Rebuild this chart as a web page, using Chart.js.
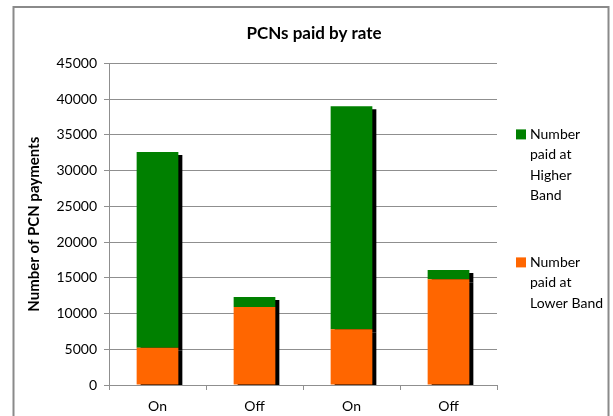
<!DOCTYPE html>
<html><head><meta charset="utf-8">
<script src="https://cdn.jsdelivr.net/npm/chart.js@4"></script>
<style>html,body{margin:0;padding:0;background:#fff;overflow:hidden;} #wrap{width:613px;height:416px;position:relative;}</style>
</head><body><div id="wrap"><canvas id="c" width="613" height="416"></canvas></div>
<script>
// ---- data ----
const categories = ['On', 'Off', 'On', 'Off'];
const lowerBand = [5200, 10900, 7800, 14800];
const higherBand = [27400, 1400, 31200, 1300];
const seriesNames = ['Number paid at Lower Band', 'Number paid at Higher Band'];
const legendLines = [['Number', 'paid at', 'Higher', 'Band'], ['Number', 'paid at', 'Lower Band']];
const yMin = 0, yMax = 45000, yStep = 5000;
const chartTitle = 'PCNs paid by rate';
const yTitle = 'Number of PCN payments';

const FONT = 'Lato, "Open Sans", sans-serif';
const GREEN = '#008000', ORANGE = '#FF6600', GRID = '#8f8f8f';

const framePlugin = {
  id: 'frame',
  beforeDraw(chart) {
    const ctx = chart.ctx;
    ctx.save();
    ctx.strokeStyle = '#8a8a8a';
    ctx.lineWidth = 2;
    ctx.strokeRect(13.5, 7, 595, 500);
    ctx.restore();
  }
};

const shadowPlugin = {
  id: 'barShadow',
  beforeDatasetsDraw(chart) {
    const ctx = chart.ctx;
    ctx.save();
    ctx.shadowColor = '#000';
    ctx.shadowBlur = 0;
    ctx.shadowOffsetX = 4;
    ctx.shadowOffsetY = 3;
  },
  afterDatasetsDraw(chart) {
    chart.ctx.restore();
  }
};

const legendPlugin = {
  id: 'wrapLegend',
  afterDraw(chart) {
    const ctx = chart.ctx;
    const ca = chart.chartArea;
    const items = [
      { color: GREEN, lines: legendLines[0], y: ca.top + 71 },
      { color: ORANGE, lines: legendLines[1], y: ca.top + 199 }
    ];
    ctx.save();
    ctx.font = '14px ' + FONT;
    ctx.textBaseline = 'middle';
    ctx.textAlign = 'left';
    items.forEach(it => {
      ctx.fillStyle = it.color;
      ctx.fillRect(ca.right + 19, it.y - 5, 10, 10);
      ctx.fillStyle = '#000';
      it.lines.forEach((ln, i) => ctx.fillText(ln, ca.right + 33, it.y + i * 20.5));
    });
    ctx.restore();
  }
};

new Chart(document.getElementById('c'), {
  type: 'bar',
  data: {
    labels: categories,
    datasets: [
      { label: seriesNames[0], data: lowerBand, backgroundColor: ORANGE, borderWidth: 0 },
      { label: seriesNames[1], data: higherBand, backgroundColor: GREEN, borderWidth: 0 }
    ]
  },
  options: {
    responsive: false,
    animation: false,
    devicePixelRatio: 1,
    layout: { padding: { left: 15, right: 0, top: 0, bottom: 0 } },
    datasets: { bar: { categoryPercentage: 1, barPercentage: 0.43 } },
    plugins: {
      legend: { display: false },
      tooltip: { enabled: false },
      title: {
        display: true, text: chartTitle, color: '#000',
        font: { family: FONT, size: 17, weight: 'bold' },
        padding: { top: 23, bottom: 20 }
      }
    },
    scales: {
      x: {
        stacked: true,
        grid: { drawOnChartArea: false, drawTicks: true, tickLength: 5, color: GRID, offset: true },
        border: { color: GRID },
        ticks: { color: '#000', font: { family: FONT, size: 14 }, padding: 8, maxRotation: 0 },
        afterFit(s) { s.height = 31; }
      },
      y: {
        stacked: true, min: yMin, max: yMax,
        grid: { color: GRID, tickLength: 5 },
        border: { color: GRID },
        ticks: { stepSize: yStep, color: '#000', font: { family: FONT, size: 14 }, padding: 7,
                 callback: v => String(v) },
        title: { display: true, text: yTitle, color: '#000',
                 font: { family: FONT, size: 15, weight: 'bold' }, padding: { top: 10, bottom: 0 } },
        afterFit(s) { s.width = 94; }
      },
      yr: {
        position: 'right', display: true,
        grid: { display: false, drawTicks: false }, border: { display: false },
        ticks: { display: false },
        afterFit(s) { s.width = 116; }
      }
    }
  },
  plugins: [framePlugin, shadowPlugin, legendPlugin]
});
</script>
</body></html>
